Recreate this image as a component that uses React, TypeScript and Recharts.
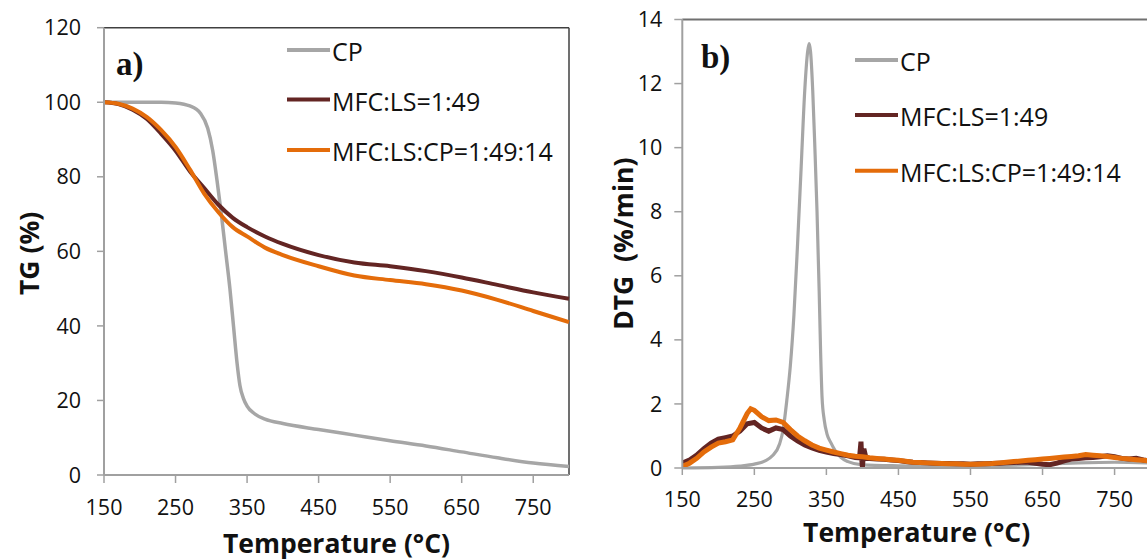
import React from 'react';
import { LineChart, Line, XAxis, YAxis, ReferenceLine, Legend } from 'recharts';

// ---------- data ----------
const SERIES_NAMES = ['CP', 'MFC:LS=1:49', 'MFC:LS:CP=1:49:14'];
const SERIES_COLORS = ['#A6A6A6', '#632523', '#E46C0A'];
const X_TICKS = [150, 250, 350, 450, 550, 650, 750];
const TG_Y_TICKS = [0, 20, 40, 60, 80, 100, 120];
const DTG_Y_TICKS = [0, 2, 4, 6, 8, 10, 12, 14];

// TG (%) – panel a)
const TG_CP_T = [150, 200, 230, 250, 270, 285, 295, 302, 308, 314, 320, 326, 331, 336, 340, 345, 350, 360, 375, 400, 450, 500, 550, 600, 650, 700, 750, 800];
const TG_CP = [100, 100, 100, 99.8, 99, 97, 93, 87, 79, 70, 60, 50, 40, 30, 24, 20.5, 18.5, 16.5, 15, 13.8, 12.2, 10.7, 9.2, 7.8, 6.2, 4.6, 3.2, 2.3];
const TG_T = [150, 170, 190, 210, 230, 250, 270, 290, 310, 330, 350, 375, 400, 450, 500, 550, 600, 650, 700, 750, 800];
const TG_MFC_LS = [100, 99.5, 98, 95.5, 91.5, 87, 81.5, 77, 72.5, 69, 66.5, 64, 62, 59, 57, 56, 54.7, 53, 51, 49, 47.3];
const TG_MFC_LS_CP = [100, 99.6, 98.3, 96, 92.5, 88, 82, 75.5, 70.5, 66.5, 64, 61, 59, 56, 53.5, 52.3, 51.2, 49.5, 47, 44, 41];

// DTG (%/min) – panel b)
const DTG_CP_T = [150, 200, 230, 250, 265, 275, 285, 290, 295, 300, 305, 310, 315, 320, 324, 326, 328, 331, 334, 337, 340, 342, 344, 347, 351, 356, 362, 370, 380, 400, 450, 500, 550, 600, 650, 700, 750, 800];
const DTG_CP = [0, 0.02, 0.06, 0.12, 0.22, 0.38, 0.75, 1.2, 2.1, 3.2, 4.8, 7.0, 9.4, 11.8, 13.0, 13.25, 13.0, 11.8, 10.0, 8.0, 5.5, 3.6, 2.2, 1.5, 1.05, 0.8, 0.55, 0.33, 0.2, 0.1, 0.07, 0.06, 0.06, 0.08, 0.12, 0.16, 0.18, 0.16];
const DTG_LS_T = [150, 160, 170, 180, 190, 200, 210, 220, 230, 240, 250, 260, 270, 280, 290, 300, 310, 320, 330, 340, 350, 360, 370, 380, 390, 396, 398, 399, 400, 402, 405, 410, 420, 430, 440, 450, 460, 470, 480, 490, 500, 510, 520, 530, 540, 550, 560, 570, 580, 590, 600, 610, 620, 630, 640, 650, 660, 670, 680, 690, 700, 710, 720, 730, 740, 750, 760, 770, 780, 790, 800];
const DTG_LS = [0.15, 0.25, 0.4, 0.6, 0.78, 0.9, 0.95, 1.0, 1.15, 1.38, 1.42, 1.25, 1.15, 1.25, 1.2, 1.0, 0.85, 0.72, 0.63, 0.55, 0.5, 0.45, 0.42, 0.38, 0.33, 0.32, 0.82, 0.3, 0.02, 0.6, 0.3, 0.3, 0.28, 0.27, 0.25, 0.23, 0.2, 0.18, 0.17, 0.16, 0.15, 0.14, 0.14, 0.13, 0.13, 0.12, 0.13, 0.13, 0.14, 0.15, 0.16, 0.17, 0.18, 0.18, 0.15, 0.12, 0.1, 0.15, 0.22, 0.28, 0.3, 0.32, 0.33, 0.35, 0.38, 0.35, 0.3, 0.28, 0.3, 0.25, 0.22];
const DTG_LSCP_T = [150, 160, 170, 180, 190, 200, 210, 220, 230, 240, 245, 250, 260, 270, 280, 290, 300, 310, 320, 330, 340, 350, 360, 370, 380, 390, 400, 410, 420, 430, 440, 450, 460, 470, 480, 490, 500, 510, 520, 530, 540, 550, 560, 570, 580, 590, 600, 610, 620, 630, 640, 650, 660, 670, 680, 690, 700, 710, 720, 730, 740, 750, 760, 770, 780, 790, 800];
const DTG_LSCP = [0.05, 0.15, 0.3, 0.5, 0.65, 0.78, 0.82, 0.88, 1.25, 1.7, 1.85, 1.8, 1.6, 1.48, 1.5, 1.42, 1.2, 1.0, 0.85, 0.72, 0.62, 0.56, 0.5, 0.45, 0.4, 0.37, 0.35, 0.32, 0.3, 0.28, 0.26, 0.24, 0.21, 0.18, 0.17, 0.16, 0.15, 0.14, 0.13, 0.13, 0.12, 0.12, 0.12, 0.13, 0.14, 0.16, 0.18, 0.2, 0.22, 0.24, 0.26, 0.28, 0.3, 0.32, 0.34, 0.36, 0.38, 0.42, 0.4, 0.38, 0.36, 0.33, 0.3, 0.28, 0.26, 0.24, 0.22];

const rows = (ts: number[], vs: number[]) => ts.map((t, i) => ({ t, v: vs[i] }));

const FONT = '"Open Sans", "DejaVu Sans", sans-serif';
const AXIS_GRAY = '#A0A0A0';

const tickStyle = { fontSize: 21.5, fill: '#111', fontFamily: FONT };

function LegendBox({ widths, rowYs }: { widths: number[]; rowYs: number[] }) {
  return (
    <svg width={300} height={150} style={{ overflow: 'visible', display: 'block' }}>
      {SERIES_NAMES.map((n, i) => (
        <g key={n}>
          <line x1={0} x2={43} y1={rowYs[i]} y2={rowYs[i]} stroke={SERIES_COLORS[i]} strokeWidth={widths[i]} />
          <text x={45} y={rowYs[i] + 1} dominantBaseline="central" fontFamily={FONT} fontSize={25} fill="#111">
            {n}
          </text>
        </g>
      ))}
    </svg>
  );
}

const xTitle = (dy: number, dx: number) => (p: any) => {
  const vb = p.viewBox || {};
  return (
    <text x={vb.x + vb.width / 2 + dx} y={vb.y + dy} textAnchor="middle" fontFamily={FONT} fontWeight={700} fontSize={26.5} fill="#111">
      Temperature (°C)
    </text>
  );
};

const yTitle = (text: string, x: number, dy: number) => (p: any) => {
  const vb = p.viewBox || {};
  const y = vb.y + vb.height / 2 + dy;
  return (
    <text x={x} y={y} transform={`rotate(-90 ${x} ${y})`} textAnchor="middle" dominantBaseline="central" fontFamily={FONT} fontWeight={700} fontSize={26.5} fill="#111" style={{ whiteSpace: 'pre' }}>
      {text}
    </text>
  );
};

export default function App() {
  return (
    <div style={{ position: 'absolute', left: 0, top: 0, width: 1147, height: 560, background: '#fff', overflow: 'hidden' }}>
      {/* Panel a) */}
      <div style={{ position: 'absolute', left: 0, top: 0 }}>
        <LineChart width={600} height={560} margin={{ top: 27.7, right: 31, bottom: 0, left: 0 }}>
          <XAxis
            dataKey="t"
            type="number"
            domain={[150, 800]}
            ticks={X_TICKS}
            interval={0}
            height={85}
            tickSize={8}
            tickMargin={17}
            axisLine={{ stroke: AXIS_GRAY, strokeWidth: 2 }}
            tickLine={{ stroke: AXIS_GRAY, strokeWidth: 1.5 }}
            tick={tickStyle}
            label={xTitle(78, 0)}
          />
          <YAxis
            type="number"
            domain={[0, 120]}
            ticks={TG_Y_TICKS}
            interval={0}
            width={104}
            tickSize={7}
            tickMargin={16}
            axisLine={{ stroke: AXIS_GRAY, strokeWidth: 2 }}
            tickLine={{ stroke: AXIS_GRAY, strokeWidth: 1.5 }}
            tick={tickStyle}
            label={yTitle('TG (%)', 29, 2)}
          />
          <ReferenceLine y={120} stroke="#404040" strokeWidth={1.5} />
          <ReferenceLine x={800} stroke="#404040" strokeWidth={1.5} />
          <Line data={rows(TG_CP_T, TG_CP)} dataKey="v" name={SERIES_NAMES[0]} stroke={SERIES_COLORS[0]} strokeWidth={3.5} dot={false} type="monotone" isAnimationActive={false} />
          <Line data={rows(TG_T, TG_MFC_LS)} dataKey="v" name={SERIES_NAMES[1]} stroke={SERIES_COLORS[1]} strokeWidth={4} dot={false} type="monotone" isAnimationActive={false} />
          <Line data={rows(TG_T, TG_MFC_LS_CP)} dataKey="v" name={SERIES_NAMES[2]} stroke={SERIES_COLORS[2]} strokeWidth={4} dot={false} type="monotone" isAnimationActive={false} />
          <Legend
            layout="vertical"
            align="center"
            verticalAlign="middle"
            content={() => <LegendBox widths={[4, 4, 4]} rowYs={[20, 69.5, 120]} />}
            wrapperStyle={{ position: 'absolute', left: 287, top: 30, width: 300, height: 150 }}
          />
        </LineChart>
        <div style={{ position: 'absolute', left: 116, top: 44, fontFamily: '"Liberation Serif", serif', fontWeight: 700, fontSize: 33, lineHeight: '40px', color: '#111' }}>a)</div>
      </div>

      {/* Panel b) */}
      <div style={{ position: 'absolute', left: 600, top: 0 }}>
        <LineChart width={547} height={560} margin={{ top: 19.5, right: 0, bottom: 0, left: 0 }}>
          <XAxis
            dataKey="t"
            type="number"
            domain={[150, 795]}
            allowDataOverflow
            ticks={X_TICKS}
            interval={0}
            height={92}
            tickSize={7}
            tickMargin={17}
            axisLine={{ stroke: AXIS_GRAY, strokeWidth: 2 }}
            tickLine={{ stroke: AXIS_GRAY, strokeWidth: 1.5 }}
            tick={tickStyle}
            label={xTitle(73.5, 2)}
          />
          <YAxis
            type="number"
            domain={[0, 14]}
            ticks={DTG_Y_TICKS}
            interval={0}
            width={82.3}
            tickSize={8}
            tickMargin={12}
            axisLine={{ stroke: AXIS_GRAY, strokeWidth: 2 }}
            tickLine={{ stroke: AXIS_GRAY, strokeWidth: 1.5 }}
            tick={tickStyle}
            label={yTitle('DTG  (%/min)', 23, 0)}
          />
          <ReferenceLine y={14} stroke="#707070" strokeWidth={2} />
          <Line data={rows(DTG_CP_T, DTG_CP)} dataKey="v" name={SERIES_NAMES[0]} stroke={SERIES_COLORS[0]} strokeWidth={3.2} dot={false} type="monotone" isAnimationActive={false} />
          <Line data={rows(DTG_LS_T, DTG_LS)} dataKey="v" name={SERIES_NAMES[1]} stroke={SERIES_COLORS[1]} strokeWidth={5} dot={false} type="linear" isAnimationActive={false} />
          <Line data={rows(DTG_LSCP_T, DTG_LSCP)} dataKey="v" name={SERIES_NAMES[2]} stroke={SERIES_COLORS[2]} strokeWidth={5} dot={false} type="linear" isAnimationActive={false} />
          <Legend
            layout="vertical"
            align="center"
            verticalAlign="middle"
            content={() => <LegendBox widths={[4, 4, 4]} rowYs={[20, 75, 130.7]} />}
            wrapperStyle={{ position: 'absolute', left: 255, top: 40, width: 300, height: 150 }}
          />
        </LineChart>
        <div style={{ position: 'absolute', left: 101, top: 37, fontFamily: '"Liberation Serif", serif', fontWeight: 700, fontSize: 33, lineHeight: '40px', color: '#111' }}>b)</div>
      </div>
    </div>
  );
}
